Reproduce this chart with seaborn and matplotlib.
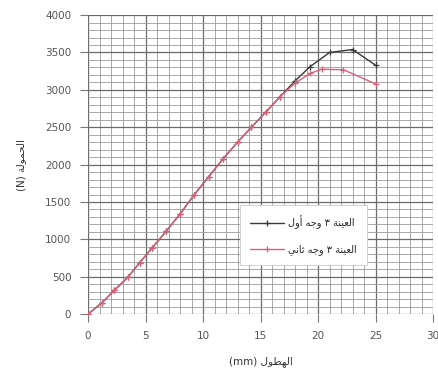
import matplotlib
matplotlib.use("Agg")
import matplotlib.pyplot as plt
import seaborn as sns
import pandas as pd
from matplotlib.ticker import MultipleLocator

# ---------------- data ----------------
x_face1 = [0, 1.2, 2.3, 3.5, 4.5, 5.6, 6.8, 8.0, 9.2, 10.5, 11.7, 13.0, 14.2, 15.5, 16.7, 18.0, 19.3, 21.0, 23.0, 25.0]
y_face1 = [0, 150, 320, 500, 690, 890, 1110, 1340, 1590, 1840, 2070, 2300, 2500, 2710, 2910, 3120, 3310, 3500, 3540, 3330]
x_face2 = [0, 1.2, 2.3, 3.5, 4.5, 5.6, 6.8, 8.0, 9.2, 10.5, 11.7, 13.0, 14.2, 15.5, 16.7, 18.0, 19.3, 20.3, 22.2, 25.0]
y_face2 = [0, 150, 320, 500, 690, 890, 1110, 1340, 1590, 1840, 2070, 2300, 2500, 2710, 2910, 3090, 3220, 3275, 3270, 3080]
label_face1 = "العينة ٣ وجه أول"
label_face2 = "العينة ٣ وجه ثاني"
x_title = "الهطول"
y_title = "الحمولة"
x_ticks = [0, 5, 10, 15, 20, 25, 30]
y_ticks = [0, 500, 1000, 1500, 2000, 2500, 3000, 3500, 4000]

# ------------- simple Arabic shaping (visual order) -------------
FORMS = {
    'ا': (0xFE8D, 0xFE8E, None, None), 'أ': (0xFE83, 0xFE84, None, None),
    'إ': (0xFE87, 0xFE88, None, None), 'آ': (0xFE81, 0xFE82, None, None),
    'ب': (0xFE8F, 0xFE90, 0xFE91, 0xFE92), 'ة': (0xFE93, 0xFE94, None, None),
    'ت': (0xFE95, 0xFE96, 0xFE97, 0xFE98), 'ث': (0xFE99, 0xFE9A, 0xFE9B, 0xFE9C),
    'ج': (0xFE9D, 0xFE9E, 0xFE9F, 0xFEA0), 'ح': (0xFEA1, 0xFEA2, 0xFEA3, 0xFEA4),
    'خ': (0xFEA5, 0xFEA6, 0xFEA7, 0xFEA8), 'د': (0xFEA9, 0xFEAA, None, None),
    'ر': (0xFEAD, 0xFEAE, None, None), 'س': (0xFEB1, 0xFEB2, 0xFEB3, 0xFEB4),
    'ض': (0xFEBD, 0xFEBE, 0xFEBF, 0xFEC0), 'ط': (0xFEC1, 0xFEC2, 0xFEC3, 0xFEC4),
    'ع': (0xFEC9, 0xFECA, 0xFECB, 0xFECC), 'ف': (0xFED1, 0xFED2, 0xFED3, 0xFED4),
    'ق': (0xFED5, 0xFED6, 0xFED7, 0xFED8), 'ك': (0xFED9, 0xFEDA, 0xFEDB, 0xFEDC),
    'ل': (0xFEDD, 0xFEDE, 0xFEDF, 0xFEE0), 'م': (0xFEE1, 0xFEE2, 0xFEE3, 0xFEE4),
    'ن': (0xFEE5, 0xFEE6, 0xFEE7, 0xFEE8), 'ه': (0xFEE9, 0xFEEA, 0xFEEB, 0xFEEC),
    'و': (0xFEED, 0xFEEE, None, None), 'ي': (0xFEF1, 0xFEF2, 0xFEF3, 0xFEF4),
}
LAM_ALEF = {'ا': (0xFEFB, 0xFEFC), 'أ': (0xFEF7, 0xFEF8), 'إ': (0xFEF9, 0xFEFA), 'آ': (0xFEF5, 0xFEF6)}


def shape(text):
    out = []
    chars = list(text)
    i = 0
    n = len(chars)

    def joins_forward(c):
        return c in FORMS and FORMS[c][2] is not None

    while i < n:
        c = chars[i]
        prev_join = i > 0 and joins_forward(chars[i - 1])
        if c == 'ل' and i + 1 < n and chars[i + 1] in LAM_ALEF:
            iso, fin = LAM_ALEF[chars[i + 1]]
            out.append(chr(fin if prev_join else iso))
            i += 2
            continue
        if c in FORMS:
            iso, fin, ini, med = FORMS[c]
            next_join = i + 1 < n and chars[i + 1] in FORMS and ini is not None
            if prev_join and next_join:
                g = med
            elif prev_join:
                g = fin
            elif next_join:
                g = ini
            else:
                g = iso
            out.append(chr(g))
        else:
            out.append(c)
        i += 1
    return ''.join(out)[::-1]


# ---------------- plot ----------------
sns.set_theme(style="white")
plt.rcParams['font.family'] = ['DejaVu Sans']

fig = plt.figure(figsize=(4.39, 3.78), dpi=100)
ax = fig.add_axes([0.2005, 0.169, 0.786, 0.791])

c1 = "#3a3a3a"
c2 = "#d9607a"
df1 = pd.DataFrame({"x": x_face1, "y": y_face1})
df2 = pd.DataFrame({"x": x_face2, "y": y_face2})
sns.lineplot(data=df1, x="x", y="y", ax=ax, color=c1, lw=1.0,
             marker="+", markersize=5, markeredgewidth=0.9, markeredgecolor=c1,
             label=shape(label_face1))
sns.lineplot(data=df2, x="x", y="y", ax=ax, color=c2, lw=1.0,
             marker="+", markersize=5, markeredgewidth=0.9, markeredgecolor=c2,
             label=shape(label_face2))

ax.set_xlim(0, 30)
ax.set_ylim(0, 4000)
ax.set_xticks(x_ticks)
ax.set_yticks(y_ticks)
ax.xaxis.set_minor_locator(MultipleLocator(1))
ax.yaxis.set_minor_locator(MultipleLocator(100))
ax.grid(which="major", color="#6a6a6a", lw=0.9)
ax.grid(which="minor", color="#9a9a9a", lw=0.6)
ax.set_axisbelow(True)
for s in ax.spines.values():
    s.set_visible(False)

ax.tick_params(axis="both", which="major", length=6, width=0.8, color="#777777",
               labelsize=7.5, labelcolor="#555555", pad=6, direction="out",
               bottom=True, left=True)
ax.tick_params(which="minor", length=0)

ax.set_xlabel("(mm) " + shape(x_title), fontsize=7.5, color="#333333", labelpad=11)
ax.set_ylabel("(N) " + shape(y_title), fontsize=7.5, color="#333333", labelpad=14)

leg = ax.legend(loc="lower left", bbox_to_anchor=(0.44, 0.164), borderaxespad=0,
                fontsize=7, frameon=True, fancybox=False, edgecolor="#cccccc",
                framealpha=1, handlelength=3.5, labelspacing=1.6, borderpad=1.0,
                handletextpad=0.5)
leg.get_frame().set_linewidth(0.6)

fig.savefig("out.png", dpi=100)
